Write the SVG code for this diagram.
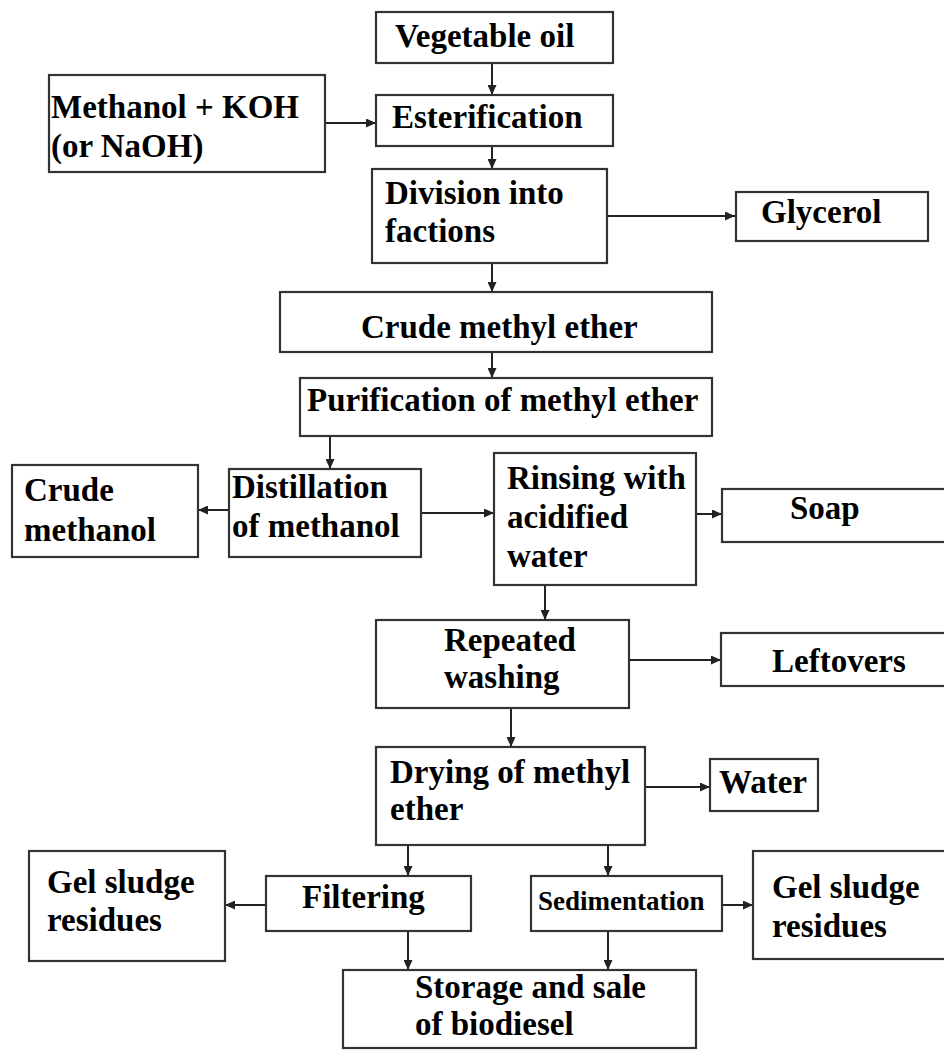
<svg xmlns="http://www.w3.org/2000/svg" width="944" height="1050" viewBox="0 0 944 1050">
<defs>
<marker id="ah" markerUnits="userSpaceOnUse" markerWidth="10" markerHeight="9" refX="10" refY="4.5" orient="auto">
<path d="M0,0 L10,4.5 L0,9 z" fill="#222"/>
</marker>
<style>
.box{fill:#fff;stroke:#333;stroke-width:2.2}
.t{font-family:"Liberation Serif","Times New Roman",serif;font-weight:bold;font-size:33px;fill:#000}
.s{font-size:27px}
#connectors line{stroke:#222;stroke-width:2;marker-end:url(#ah)}
</style>
</defs>
<rect width="944" height="1050" fill="#fff"/>
<g id="connectors">
<line x1="492" y1="63" x2="492" y2="95"/>
<line x1="325" y1="123" x2="376" y2="123"/>
<line x1="492" y1="146" x2="492" y2="169"/>
<line x1="607" y1="216" x2="735" y2="216"/>
<line x1="492" y1="263" x2="492" y2="292"/>
<line x1="492" y1="352" x2="492" y2="378"/>
<line x1="330" y1="436" x2="330" y2="469"/>
<line x1="229" y1="510" x2="198" y2="510"/>
<line x1="421" y1="513" x2="494" y2="513"/>
<line x1="696" y1="514" x2="722" y2="514"/>
<line x1="545" y1="585" x2="545" y2="620"/>
<line x1="629" y1="660" x2="721" y2="660"/>
<line x1="511" y1="708" x2="511" y2="747"/>
<line x1="645" y1="787" x2="710" y2="787"/>
<line x1="408" y1="845" x2="408" y2="876"/>
<line x1="608" y1="845" x2="608" y2="876"/>
<line x1="266" y1="905" x2="225" y2="905"/>
<line x1="722" y1="905" x2="753" y2="905"/>
<line x1="408" y1="931" x2="408" y2="970"/>
<line x1="608" y1="931" x2="608" y2="970"/>
</g>
<g id="veg"><rect class="box" x="376" y="12" width="237" height="51"/><text class="t" x="395" y="47">Vegetable oil</text></g>
<g id="methanol"><rect class="box" x="49" y="75" width="276" height="97"/><text class="t" x="51" y="118">Methanol + KOH</text><text class="t" x="51" y="157">(or NaOH)</text></g>
<g id="ester"><rect class="box" x="376" y="95" width="237" height="51"/><text class="t" x="392" y="128">Esterification</text></g>
<g id="division"><rect class="box" x="372" y="169" width="235" height="94"/><text class="t" x="385" y="204">Division into</text><text class="t" x="385" y="242">factions</text></g>
<g id="glycerol"><rect class="box" x="736" y="192" width="192" height="49"/><text class="t" x="761" y="223">Glycerol</text></g>
<g id="crude-ether"><rect class="box" x="280" y="292" width="432" height="60"/><text class="t" x="361" y="338">Crude methyl ether</text></g>
<g id="purification"><rect class="box" x="300" y="378" width="412" height="58"/><text class="t" x="307" y="411">Purification of methyl ether</text></g>
<g id="crude-methanol"><rect class="box" x="12" y="465" width="186" height="92"/><text class="t" x="24" y="501">Crude</text><text class="t" x="24" y="541">methanol</text></g>
<g id="distillation"><rect class="box" x="229" y="469" width="192" height="88"/><text class="t" x="232" y="498">Distillation</text><text class="t" x="232" y="537">of methanol</text></g>
<g id="rinsing"><rect class="box" x="494" y="453" width="202" height="132"/><text class="t" x="507" y="489">Rinsing with</text><text class="t" x="507" y="528">acidified</text><text class="t" x="507" y="567">water</text></g>
<g id="soap"><rect class="box" x="722" y="489" width="224" height="53"/><text class="t" x="790" y="519">Soap</text></g>
<g id="repeated"><rect class="box" x="376" y="620" width="253" height="88"/><text class="t" x="444" y="651">Repeated</text><text class="t" x="444" y="688">washing</text></g>
<g id="leftovers"><rect class="box" x="721" y="633" width="225" height="53"/><text class="t" x="772" y="672">Leftovers</text></g>
<g id="drying"><rect class="box" x="376" y="747" width="269" height="98"/><text class="t" x="390" y="783">Drying of methyl</text><text class="t" x="390" y="820">ether</text></g>
<g id="water"><rect class="box" x="710" y="759" width="108" height="52"/><text class="t" x="719" y="793">Water</text></g>
<g id="gel-left"><rect class="box" x="29" y="851" width="196" height="110"/><text class="t" x="47" y="893">Gel sludge</text><text class="t" x="47" y="931">residues</text></g>
<g id="filtering"><rect class="box" x="266" y="876" width="205" height="55"/><text class="t" x="302" y="908">Filtering</text></g>
<g id="sedimentation"><rect class="box" x="531" y="876" width="191" height="55"/><text class="t s" x="538" y="910">Sedimentation</text></g>
<g id="gel-right"><rect class="box" x="753" y="851" width="193" height="108"/><text class="t" x="772" y="898">Gel sludge</text><text class="t" x="772" y="937">residues</text></g>
<g id="storage"><rect class="box" x="343" y="970" width="353" height="78"/><text class="t" x="415" y="998">Storage and sale</text><text class="t" x="415" y="1035">of biodiesel</text></g>
</svg>
